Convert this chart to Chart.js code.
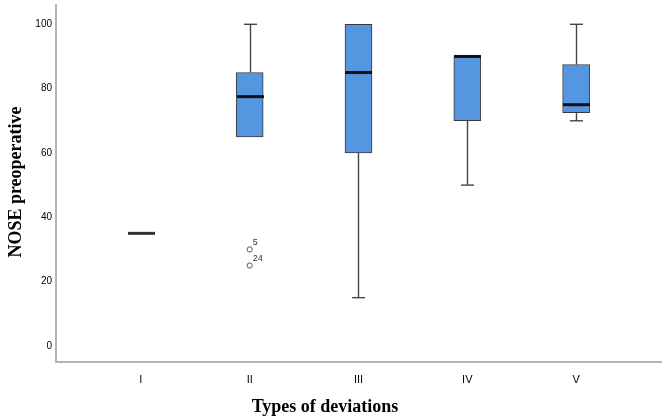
<!DOCTYPE html>
<html>
<head>
<meta charset="utf-8">
<script src="https://cdn.jsdelivr.net/npm/chart.js@4.4.0/dist/chart.umd.min.js"></script>
<style>
  html, body { margin: 0; padding: 0; background: #ffffff; }
  #wrap { width: 670px; height: 420px; position: relative; }
</style>
</head>
<body>
<div id="wrap"><canvas id="c" width="670" height="420"></canvas></div>
<script>
// ---- data ----
const categories   = ['I', 'II', 'III', 'IV', 'V'];
const whiskerLow   = [35, 65, 15, 50, 70];
const q1           = [35, 65, 60, 70, 72.5];
const median       = [35, 77.5, 85, 90, 75];
const q3           = [35, 85, 100, 90, 87.5];
const whiskerHigh  = [35, 100, 100, 90, 100];
const outlierCategory = ['II', 'II'];
const outlierValues   = [30, 25];
const outlierLabels   = ['5', '24'];
const yTicks = [0, 20, 40, 60, 80, 100];
const xTitle = 'Types of deviations';
const yTitle = 'NOSE preoperative';

// ---- styles ----
const BOX_W = 27, CAP_W = 13;
const boxFill = '#5596E1', boxLine = '#3a3a3a';

const boxData = categories.map((c, i) => (q3[i] > q1[i] ? { x: i + 1, y: [q1[i], q3[i]] } : null)).filter(Boolean);
const outlierData = outlierValues.map((v, i) => ({ x: categories.indexOf(outlierCategory[i]) + 1, y: v }));

const boxPlugin = {
  id: 'boxExtras',
  afterDatasetsDraw(chart) {
    const ctx = chart.ctx, xs = chart.scales.x, ys = chart.scales.y;
    ctx.save();
    categories.forEach((c, i) => {
      const cx = Math.round(xs.getPixelForValue(i + 1)) + 0.5;
      ctx.strokeStyle = '#444';
      ctx.lineWidth = 1.4;
      if (whiskerHigh[i] > q3[i]) {
        const yTop = ys.getPixelForValue(whiskerHigh[i]);
        const yBox = ys.getPixelForValue(q3[i]);
        ctx.beginPath(); ctx.moveTo(cx, yBox); ctx.lineTo(cx, yTop); ctx.stroke();
        ctx.beginPath(); ctx.moveTo(cx - CAP_W / 2, yTop); ctx.lineTo(cx + CAP_W / 2, yTop); ctx.stroke();
      }
      if (whiskerLow[i] < q1[i]) {
        const yBot = ys.getPixelForValue(whiskerLow[i]);
        const yBox = ys.getPixelForValue(q1[i]);
        ctx.beginPath(); ctx.moveTo(cx, yBox); ctx.lineTo(cx, yBot); ctx.stroke();
        ctx.beginPath(); ctx.moveTo(cx - CAP_W / 2, yBot); ctx.lineTo(cx + CAP_W / 2, yBot); ctx.stroke();
      }
      const ym = ys.getPixelForValue(median[i]);
      ctx.strokeStyle = q3[i] > q1[i] ? '#111' : '#333';
      ctx.lineWidth = 3;
      ctx.beginPath(); ctx.moveTo(cx - BOX_W / 2, ym); ctx.lineTo(cx + BOX_W / 2, ym); ctx.stroke();
    });
    ctx.fillStyle = '#333';
    ctx.font = '9px "Liberation Sans", Arial, sans-serif';
    ctx.textAlign = 'left';
    ctx.textBaseline = 'middle';
    outlierData.forEach((p, k) => {
      const px = xs.getPixelForValue(p.x), py = ys.getPixelForValue(p.y);
      ctx.fillText(outlierLabels[k], px + 3, py - 7);
    });
    ctx.fillStyle = '#000';
    ctx.font = 'bold 18px "Liberation Serif", "Times New Roman", serif';
    ctx.textAlign = 'center';
    ctx.textBaseline = 'middle';
    ctx.fillText(xTitle, 325, 407);
    ctx.translate(16, 182);
    ctx.rotate(-Math.PI / 2);
    ctx.fillText(yTitle, 0, 0);
    ctx.restore();
  }
};

new Chart(document.getElementById('c'), {
  type: 'bar',
  data: {
    datasets: [
      {
        type: 'bar',
        data: boxData,
        backgroundColor: boxFill,
        borderColor: boxLine,
        borderWidth: 1,
        borderSkipped: false,
        barThickness: BOX_W,
        order: 2
      },
      {
        type: 'scatter',
        data: outlierData,
        pointStyle: 'circle',
        pointRadius: 2.6,
        pointBackgroundColor: '#ffffff',
        pointBorderColor: '#555',
        pointBorderWidth: 1,
        order: 1
      }
    ]
  },
  options: {
    responsive: false,
    animation: false,
    events: [],
    layout: { padding: { top: 5, right: 9, left: 0, bottom: 0 } },
    plugins: { legend: { display: false }, tooltip: { enabled: false } },
    scales: {
      x: {
        type: 'linear',
        offset: false,
        min: 0.22,
        max: 5.78,
        grid: { display: false, drawTicks: false, offset: false },
        border: { display: true, color: '#b4b4b4', width: 2 },
        afterBuildTicks(scale) { scale.ticks = categories.map((c, i) => ({ value: i + 1 })); },
        ticks: {
          autoSkip: false,
          maxRotation: 0,
          padding: 11,
          color: '#000',
          font: { family: '"Liberation Sans", Arial, sans-serif', size: 11 },
          callback: (v) => categories[Math.round(v) - 1] || ''
        },
        afterFit(scale) { scale.height = 58; scale.paddingLeft = 0; scale.paddingRight = 0; }
      },
      y: {
        min: -5,
        max: 106,
        grid: { display: false, drawTicks: false },
        border: { display: true, color: '#b4b4b4', width: 2 },
        afterBuildTicks(scale) { scale.ticks = yTicks.map(v => ({ value: v })); },
        ticks: {
          padding: 4,
          color: '#000',
          font: { family: '"Liberation Sans", Arial, sans-serif', size: 10 }
        },
        afterFit(scale) { scale.width = 56; scale.paddingTop = 0; scale.paddingBottom = 0; }
      }
    }
  },
  plugins: [boxPlugin]
});
</script>
</body>
</html>
